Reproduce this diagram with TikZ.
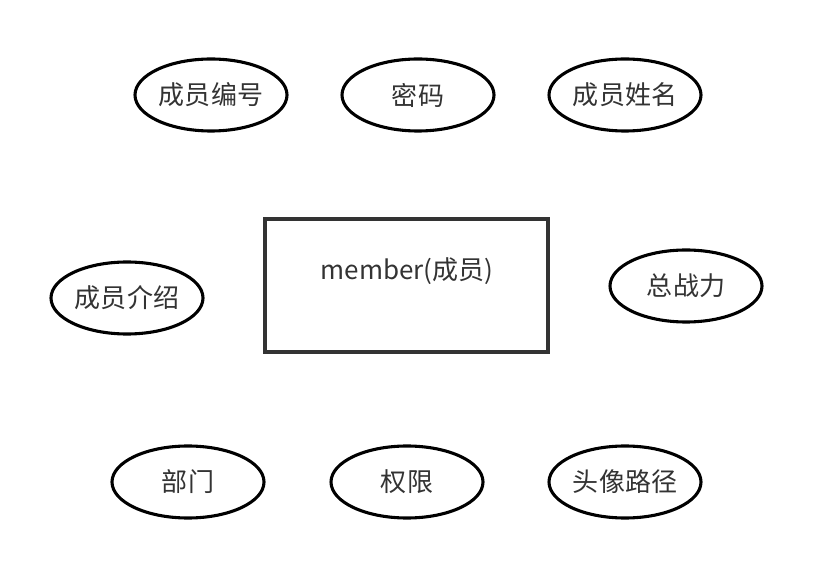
\documentclass[tikz,border=0pt]{standalone}
\usepackage{fontspec}
\setmainfont{Noto Sans CJK SC}
\usetikzlibrary{shapes.geometric}

\definecolor{darkline}{HTML}{333333}

\tikzset{
  attr/.style={draw, ellipse, line width=2.2pt, minimum width=3.8cm, minimum height=1.8cm, inner sep=0pt, text=darkline, font=\fontsize{18.5}{22}\selectfont},
  entity/.style={draw=darkline, line width=2.8pt}
}

\begin{document}
\begin{tikzpicture}
  \useasboundingbox (0,0) rectangle (20.35,-14.3);
  % entity
  \draw[entity] (6.625,-5.475) rectangle (13.7,-8.8);
  \node[text=darkline, font=\fontsize{18.5}{22}\selectfont] (member) at (10.175,-6.775) {member(成员)};
  % attributes
  \node[attr] (number) at (5.275,-2.375) {成员编号};
  \node[attr] (password) at (10.45,-2.375) {密码};
  \node[attr] (name) at (15.625,-2.375) {成员姓名};
  \node[attr] (intro) at (3.175,-7.45) {成员介绍};
  \node[attr] (power) at (17.15,-7.15) {总战力};
  \node[attr] (dept) at (4.7,-12.05) {部门};
  \node[attr] (perm) at (10.175,-12.05) {权限};
  \node[attr] (avatar) at (15.625,-12.05) {头像路径};
\end{tikzpicture}
\end{document}
